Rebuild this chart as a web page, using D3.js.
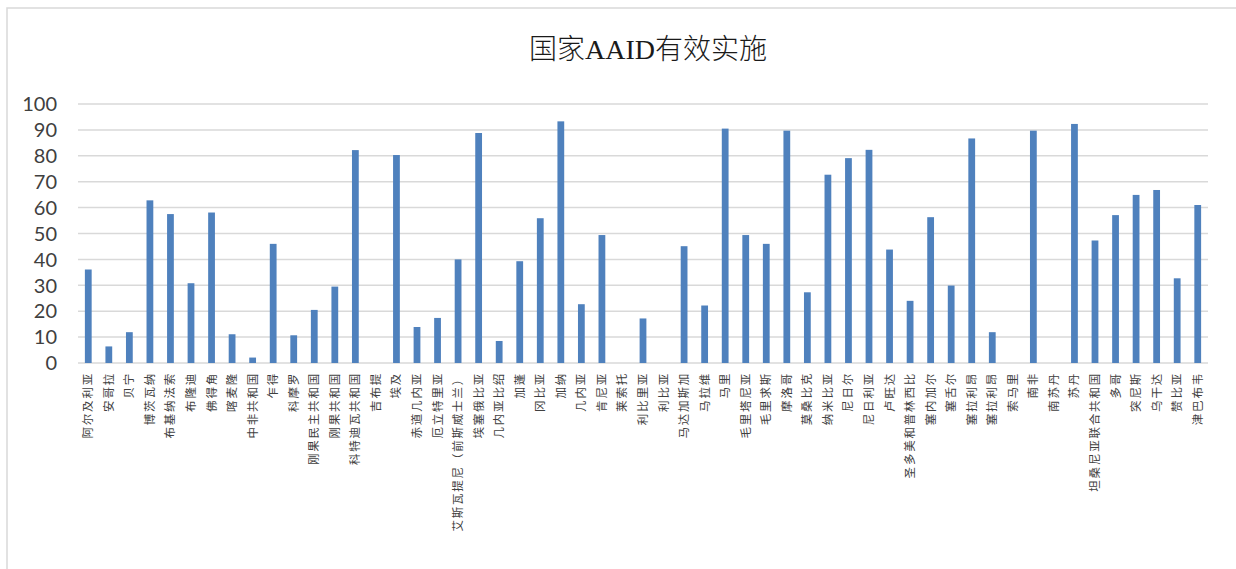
<!DOCTYPE html>
<html><head><meta charset="utf-8">
<script src="https://cdn.jsdelivr.net/npm/d3@7"></script>
<style>body{margin:0;background:#fff}svg{display:block}</style>
</head><body>
<svg id="c" width="1236" height="569"></svg>
<script>
const titleText = "国家AAID有效实施";
const categories = ["阿尔及利亚","安哥拉","贝宁","博茨瓦纳","布基纳法索","布隆迪","佛得角","喀麦隆","中非共和国","乍得","科摩罗","刚果民主共和国","刚果共和国","科特迪瓦共和国","吉布提","埃及","赤道几内亚","厄立特里亚","艾斯瓦提尼（前斯威士兰）","埃塞俄比亚","几内亚比绍","加蓬","冈比亚","加纳","几内亚","肯尼亚","莱索托","利比里亚","利比亚","马达加斯加","马拉维","马里","毛里塔尼亚","毛里求斯","摩洛哥","莫桑比克","纳米比亚","尼日尔","尼日利亚","卢旺达","圣多美和普林西比","塞内加尔","塞舌尔","塞拉利昂","塞拉利昂","索马里","南非","南苏丹","苏丹","坦桑尼亚联合共和国","多哥","突尼斯","乌干达","赞比亚","津巴布韦"];
const values = [36.1,6.4,11.9,62.8,57.5,30.8,58.1,11.1,2.1,46,10.7,20.5,29.5,82.2,0,80.3,13.9,17.4,40,88.8,8.5,39.3,55.9,93.3,22.7,49.4,0,17.2,0,45.1,22.2,90.5,49.4,46,89.7,27.3,72.7,79.1,82.3,43.8,24,56.3,29.9,86.7,11.9,0,89.7,0,92.3,47.3,57.1,64.9,66.8,32.7,61];
const yTicks = [0,10,20,30,40,50,60,70,80,90,100];

const svg = d3.select("#c");
// chart border
svg.append("rect").attr("x",7).attr("y",8).attr("width",1300).attr("height",600)
  .attr("fill","none").attr("stroke","#d9d9d9").attr("stroke-width",1.5);

const x = d3.scaleBand().domain(d3.range(categories.length)).range([78,1208]).paddingInner(0.67).paddingOuter(0.335);
const y = d3.scaleLinear().domain([0,100]).range([363,104]);

// gridlines
svg.append("g").selectAll("line").data(yTicks).join("line")
  .attr("x1",78).attr("x2",1208).attr("y1",d=>y(d)).attr("y2",d=>y(d))
  .attr("stroke","#d9d9d9").attr("stroke-width",1.5);

// y axis labels
svg.append("g").selectAll("text").data(yTicks).join("text")
  .attr("x",57).attr("y",d=>y(d)).attr("dy","0.36em").attr("text-anchor","end")
  .attr("font-family","Lato, 'Noto Sans', sans-serif").attr("font-size",20).attr("fill","#404040")
  .text(d=>d);

// bars
svg.append("g").selectAll("rect").data(values).join("rect")
  .attr("x",(d,i)=>x(i)).attr("width",x.bandwidth())
  .attr("y",d=>y(d)).attr("height",d=>y(0)-y(d))
  .attr("fill","#4f81bd");

// category labels
svg.append("g").selectAll("text").data(categories).join("text")
  .attr("transform",(d,i)=>`translate(${x(i)+x.bandwidth()/2},372) rotate(-90)`)
  .attr("text-anchor","end").attr("dy","0.35em")
  .attr("font-family","'Noto Sans CJK SC', sans-serif").attr("font-size",11.5)
  .attr("letter-spacing","1.8px").attr("fill","#404040")
  .text(d=>d);

// title
svg.append("text").attr("x",648).attr("y",59).attr("text-anchor","middle")
  .attr("font-family","'Liberation Serif', 'Noto Sans CJK SC', serif").attr("font-size",28).attr("font-weight",300)
  .attr("fill","#1a1a1a").text(titleText);
</script>
</body></html>
